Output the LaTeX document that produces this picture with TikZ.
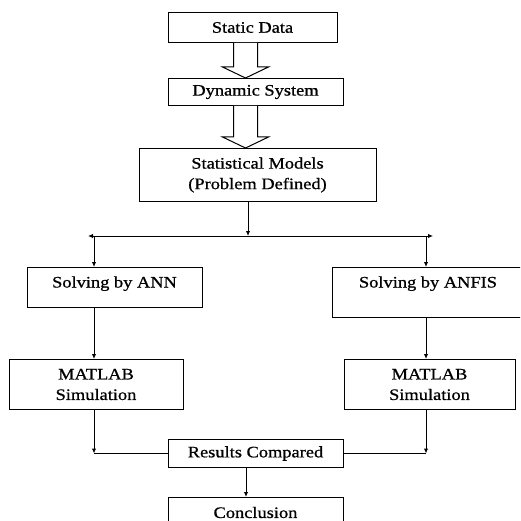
\documentclass[tikz,border=0pt]{standalone}
\usepackage{fontspec}
\setmainfont{Liberation Serif}[FakeStretch=1.15,FakeBold=0.8]
\usetikzlibrary{arrows.meta,calc}

% hollow block arrow from a box bottom to the next box top
\newcommand{\fatarrow}[2]{%
  \draw[fill=white] ($(#1)+(-12,0)$) -- ($(#2)+(-12,-11)$) -- ($(#2)+(-23,-11)$)
    -- (#2) -- ($(#2)+(23,-11)$) -- ($(#2)+(12,-11)$) -- ($(#1)+(12,0)$);}

\begin{document}
\begin{tikzpicture}[x=1pt, y=-1pt, line width=1pt, >={Latex[length=5pt,width=4.5pt]},
  box/.style={draw, anchor=north, inner sep=0pt, align=center,
    font=\fontsize{16}{20.5}\selectfont}]
  \clip (0,0) rectangle (520,521);
  \node[box, minimum width=169pt, minimum height=30pt] (static) at (252.5,12) {Static Data};
  \node[box, minimum width=175pt, minimum height=27pt] (dyn) at (255.5,78) {Dynamic System};
  \node[box, minimum width=237pt, minimum height=53pt] (stat) at (257.5,148)
    {Statistical Models\\(Problem Defined)};
  \node[box, minimum width=175pt, text height=20pt, text depth=20pt] (ann) at (114.5,267) {Solving by ANN};
  \node[box, minimum width=192pt, text height=20pt, text depth=30pt] (anfis) at (428,267) {Solving by ANFIS};
  \node[box, minimum width=174pt, minimum height=50pt] (mat1) at (96,359) {MATLAB\\Simulation};
  \node[box, minimum width=171pt, minimum height=50pt] (mat2) at (429.5,359) {MATLAB\\Simulation};
  \node[box, minimum width=175pt, minimum height=28pt] (res) at (255.5,439) {Results Compared};
  \node[box, minimum width=175pt, minimum height=30pt] (conc) at (255.5,497) {Conclusion};

  % block arrows
  \path (static.south) ++(-7,0) coordinate (a1top);
  \path (a1top |- dyn.north) coordinate (a1tip);
  \fatarrow{a1top}{a1tip}
  \path (dyn.south) ++(-10,0) coordinate (a2top);
  \path (a2top |- stat.north) coordinate (a2tip);
  \fatarrow{a2top}{a2tip}

  % split into two branches
  \coordinate (split) at (248,236);
  \coordinate (lend) at (88,236);
  \coordinate (rend) at (433,236);
  \coordinate (lbr) at (94,236);
  \coordinate (rbr) at (426,236);
  \draw[->] (stat.south -| split) -- (split);
  \draw[<->] (lend) -- (rend);
  \draw[->] (lbr) -- (lbr |- ann.north);
  \draw[->] (rbr) -- (rbr |- anfis.north);
  \draw[->] (lbr |- ann.south) -- (lbr |- mat1.north);
  \draw[->] (rbr |- anfis.south) -- (rbr |- mat2.north);

  % join at the comparison
  \draw[->] (lbr |- mat1.south) -- (lbr |- res.west);
  \draw (res.west) -- (lbr |- res.west);
  \draw[->] (rbr |- mat2.south) -- (rbr |- res.east);
  \draw (res.east) -- (rbr |- res.east);
  \draw[->] ([xshift=-9.5pt]res.south) -- ([xshift=-9.5pt]conc.north);
\end{tikzpicture}
\end{document}
